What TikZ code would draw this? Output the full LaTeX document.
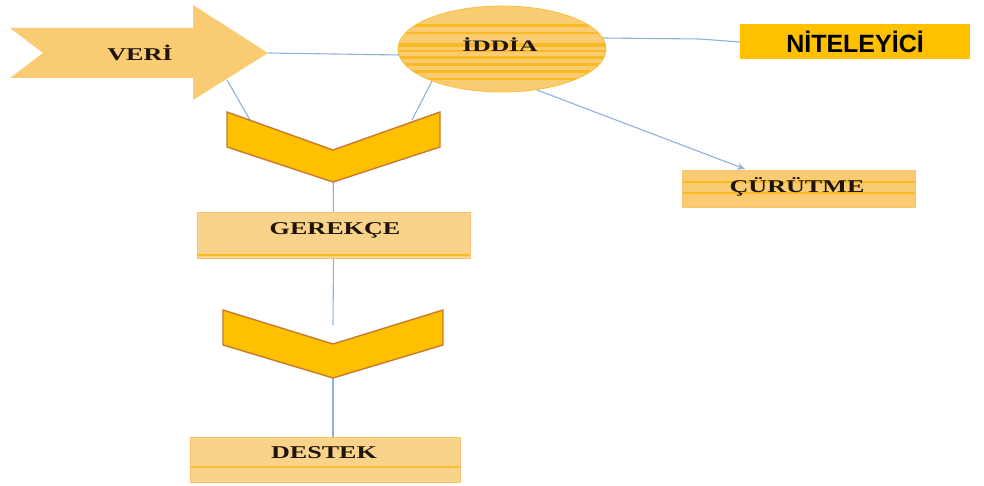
\documentclass[tikz,border=0pt]{standalone}
\usepackage{fontspec}
\setmainfont{Liberation Serif}
\newfontfamily\arialf{Liberation Sans}
\usetikzlibrary{shapes.geometric,arrows.meta}
\definecolor{lightor}{HTML}{F9CB72}
\definecolor{boxor}{HTML}{FAD38A}
\definecolor{gold}{HTML}{FFC000}
\definecolor{stripe}{HTML}{F7BA22}
\definecolor{chevbord}{HTML}{C87A30}
\definecolor{linkblue}{HTML}{8FB3DD}
\definecolor{txt}{HTML}{1E140C}
\newcommand\widetxt[1]{\scalebox{1.45}[1]{#1}}
\tikzset{
  lbl/.style={text=txt,font=\fontsize{18}{18}\selectfont\bfseries,inner sep=0pt},
  link/.style={draw=linkblue,line width=1.1pt},
  chev/.style={fill=gold,draw=chevbord,line width=1.4pt,line join=miter},
  boxstyle/.style={fill=boxor,draw=boxor!80!orange,line width=0.6pt,inner sep=0pt}
}
\begin{document}
\begin{tikzpicture}[x=1pt,y=-1pt]
\useasboundingbox (0,0) rectangle (984,486);
\fill[white] (0,0) rectangle (984,486);
% named points
\coordinate (veritip) at (268,53);
\coordinate (verilow) at (227,80);
\coordinate (ch1l) at (250,120);
\coordinate (ch1r) at (412,120);
\coordinate (ch1bot) at (333,182);
\coordinate (ch1mid) at (333,160);
\coordinate (ch2top) at (333,325);
\coordinate (ch2bot) at (333,378);
\coordinate (iddl) at (400,55);
\coordinate (iddbl) at (432,81);
\coordinate (iddbr) at (537,90);
\coordinate (iddr) at (603,38);
\coordinate (curtop) at (745,169);
% nodes (boxes)
\node[boxstyle,minimum width=273,minimum height=46,
  path picture={\draw[stripe,line width=2.5pt] (-200,20) -- (200,20);}] (gerekce) at (333.5,235) {};
\node[boxstyle,minimum width=270,minimum height=45,
  path picture={\draw[stripe!80!lightor,line width=1.5pt] (-200,7.5) -- (200,7.5);}] (destek) at (325,459.5) {};
\node[boxstyle,fill=lightor,minimum width=233,minimum height=37,
  path picture={\draw[stripe,line width=2.5pt] (-130,-6.5) -- (130,-6.5);
                \draw[stripe,line width=2.5pt] (-130,4.5) -- (130,4.5);}] (curutme) at (798.5,188.5) {};
\node[fill=gold,inner sep=0pt,minimum width=230,minimum height=35] (nit) at (855,42)
  {\arialf\bfseries\fontsize{25}{25}\selectfont NİTELEYİCİ};
% connectors (behind shapes)
\draw[link] (veritip) -- (iddl);
\draw[link] (verilow) -- (ch1l);
\draw[link] (iddbl) -- (ch1r);
\draw[link] (ch1mid) -- (gerekce.north);
\draw[link] (gerekce.south) -- (ch2top);
\draw[link] (ch2bot) -- (destek.north -| ch2bot);
\draw[link] (iddr) -- (700,39) -- (nit.west);
\draw[link,-{Stealth[length=8pt,width=7pt]}] (iddbr) -- (curtop);
% VERI arrow
\fill[lightor] (10,28) -- (193,28) -- (193,5) -- (veritip) -- (193,100) -- (193,78) -- (10,78) -- (43,53) -- cycle;
\node[lbl] (veri) at (140,53) {\widetxt{VERİ}};
% IDDIA ellipse
\node[ellipse,fill=lightor,draw=stripe!70!lightor,line width=0.8pt,inner sep=0pt,
  minimum width=208,minimum height=86,
  path picture={
    \foreach \yy/\ww in {-23/3,-16/2,-4/4,2/2,9/3,16/3,23/3,30/2}
      \draw[stripe,line width=\ww pt] (-115,\yy) -- (115,\yy);
  }] (iddia) at (502,49) {};
\node[lbl,font=\fontsize{16}{16}\selectfont\bfseries] (iddiatxt) at (500,45) {\scalebox{1.6}[1]{İDDİA}};
% chevrons
\draw[chev] (227,112) -- (333,150) -- (440,112) -- (440,147) -- (ch1bot) -- (227,147) -- cycle;
\draw[chev] (223,310) -- (333,344) -- (443,310) -- (443,345) -- (ch2bot) -- (223,345) -- cycle;
% labels
\node[lbl] (gerekcetxt) at (335,230) {\widetxt{GEREKÇE}};
\node[lbl] (destektxt) at (324,453) {\widetxt{DESTEK}};
\node[lbl] (curutmetxt) at (797,187) {\widetxt{ÇÜRÜTME}};
\end{tikzpicture}
\end{document}
